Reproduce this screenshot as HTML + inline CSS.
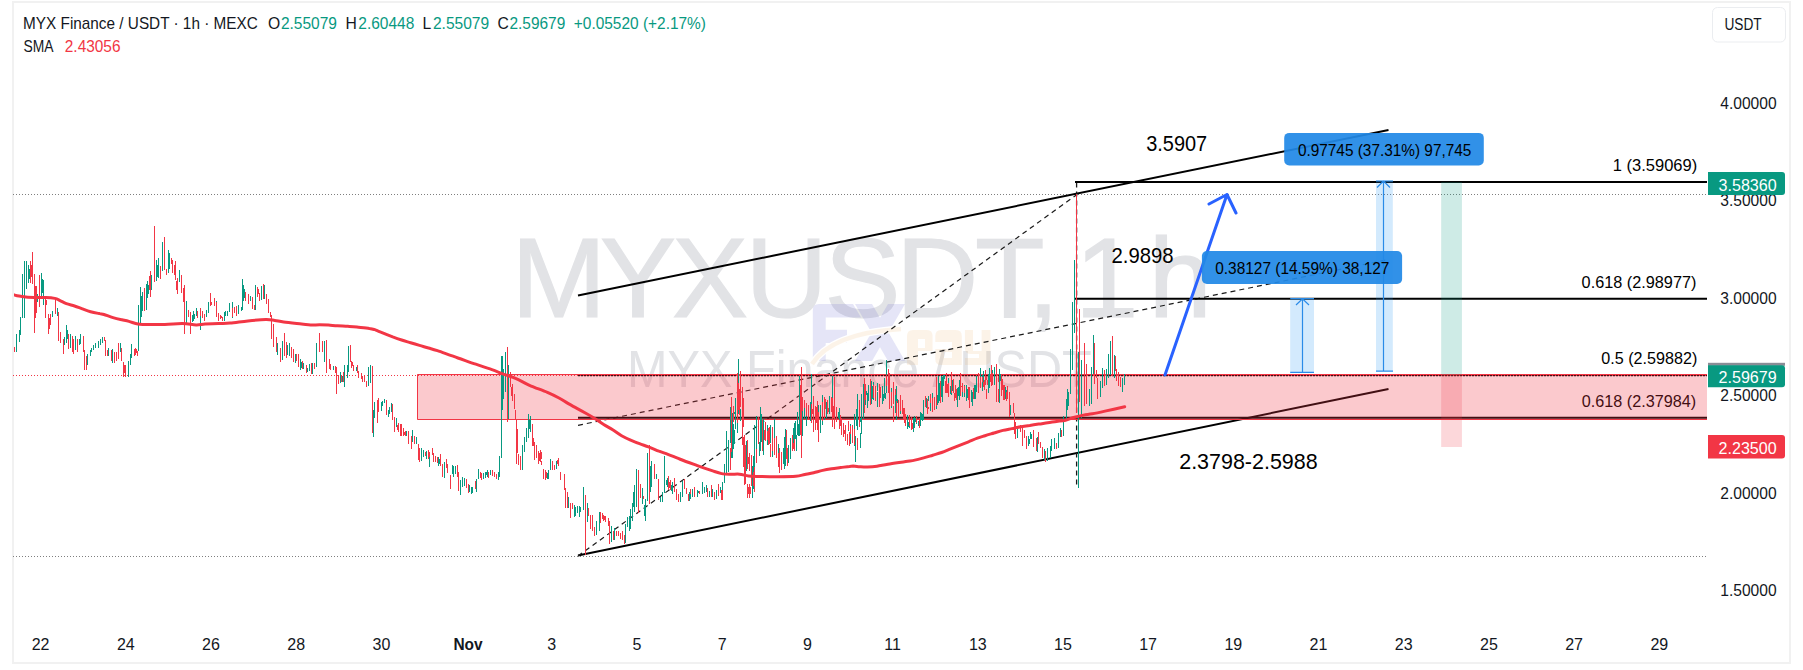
<!DOCTYPE html>
<html><head><meta charset="utf-8"><title>MYXUSDT 1h chart</title>
<style>html,body{margin:0;padding:0;background:#fff;width:1803px;height:670px;overflow:hidden}svg{display:block}</style>
</head><body><svg width="1803" height="670" viewBox="0 0 1803 670" font-family="'Liberation Sans', Arial, sans-serif"><defs><clipPath id="pane"><rect x="14" y="3" width="1693" height="659"/></clipPath></defs><rect x="12" y="1" width="1779" height="2" fill="#f1f1f1"/><rect x="12" y="662" width="1779" height="2" fill="#f1f1f1"/><rect x="12" y="1" width="2" height="663" fill="#f1f1f1"/><rect x="1789" y="1" width="2" height="663" fill="#f1f1f1"/><text x="511.3 600.1 672.1 745.2 824.6 895.9 975.0 1027.6 1050.6 1074.9 1148.6" y="317.2" font-size="114" fill="#e2e3e6" stroke="#e2e3e6" stroke-width="1.2">MYXUSDT, 1h</text><text x="627.1" y="386.9" font-size="50.9" fill="#e2e3e6" font-weight="normal" textLength="464.7" lengthAdjust="spacingAndGlyphs">MYX Finance / USDT</text><path d="M812.8 310 Q812.8 304 819 304 H853 L861 317.4 H825.7 V329.7 H847 V343 H825.7 V361 H812.8 Z" fill="rgba(100,100,205,0.17)"/><path d="M855 304 H872 L905 361 H888 Z M888 304 H905 L872 361 H855 Z" fill="rgba(100,100,205,0.17)" fill-rule="nonzero"/><path d="M812 364 Q832 333 901 329" stroke="#fff" stroke-width="7" fill="none"/><path d="M812 364 Q832 333 901 329" stroke="rgba(230,165,80,0.13)" stroke-width="4.5" fill="none"/><path fill-rule="evenodd" fill="rgba(230,165,80,0.13)" d="M913 330 H927 Q932.6 330 932.6 336 V351 H918 V365 H907 V336 Q907 330 913 330 Z M918 339 V348 H925 V339 Z M941 330 H956 Q961.8 330 961.8 336 V365 H941 Q935.3 365 935.3 359 V349 H952 V342 H935.3 V336 Q935.3 330 941 330 Z M944 352 V358 H952 V352 Z M964.9 330 H973 V351 H981.6 V330 H990.4 V359 Q990.4 365 984 365 H964.9 V358 H979 V354 H971 Q964.9 354 964.9 348 Z"/><path d="M13 194.5 H1707 M13 556.5 H1707" stroke="#7f7f7f" stroke-width="1" stroke-dasharray="1 2" fill="none"/><path d="M13 375.5 H1707" stroke="#f23645" stroke-width="1" stroke-dasharray="1 2" fill="none"/><path d="M578 295.5 L1388.5 130" stroke="#000" stroke-width="2" fill="none"/><path d="M578 555.5 L1388.5 389" stroke="#000" stroke-width="2" fill="none"/><path d="M578 425.3 L1388.5 259.5" stroke="#1a1a1a" stroke-width="1.2" stroke-dasharray="5 4" fill="none"/><path d="M578 556 L1077 194.4" stroke="#1a1a1a" stroke-width="1.2" stroke-dasharray="5 4" fill="none"/><path d="M578 375.6 H1707" stroke="#000" stroke-width="1.3" stroke-dasharray="2 1" fill="none"/><path d="M578 417.8 H1707" stroke="#000" stroke-width="2" fill="none"/><text x="1601.3" y="363.9" font-size="15.7" fill="#000" font-weight="normal" textLength="96.0" lengthAdjust="spacingAndGlyphs">0.5 (2.59882)</text><text x="1581.8" y="406.8" font-size="15.7" fill="#000" font-weight="normal" textLength="114.3" lengthAdjust="spacingAndGlyphs">0.618 (2.37984)</text><path d="M1076.6 182.5 V488" stroke="#1a1a1a" stroke-width="1.3" stroke-dasharray="5 4" fill="none"/><path d="M1075 181.9 H1707 M1075 298.8 H1707" stroke="#000" stroke-width="2" fill="none"/><text x="1612.8" y="171.0" font-size="15.7" fill="#000" font-weight="normal" textLength="84.4" lengthAdjust="spacingAndGlyphs">1 (3.59069)</text><text x="1581.6" y="288.2" font-size="15.7" fill="#000" font-weight="normal" textLength="114.8" lengthAdjust="spacingAndGlyphs">0.618 (2.98977)</text><rect x="417" y="374" width="1290" height="46" fill="rgba(242,54,69,0.27)"/><path d="M1707 374.5 H417.5 V419.5 H1707" stroke="#f23645" stroke-width="1" fill="none"/><rect x="1441.2" y="182" width="20.7" height="192.8" fill="rgba(8,153,129,0.2)"/><rect x="1441.2" y="374.8" width="20.7" height="72.2" fill="rgba(242,54,69,0.2)"/><rect x="1290.2" y="298.4" width="23.8" height="74" fill="rgba(33,150,243,0.2)"/><path d="M1302.5 299 V372.4 M1290.2 372.4 H1314 M1296 305 L1302.5 298.8 L1309 305" stroke="#2a8be8" stroke-width="1.2" fill="none"/><path d="M1290.2 298.6 H1314" stroke="#2a8be8" stroke-width="1.2" fill="none"/><rect x="1376" y="180.6" width="16.8" height="190.5" fill="rgba(33,150,243,0.2)"/><path d="M1383.5 181.5 V371.1 M1376 371.1 H1393 M1377 187.5 L1383.5 181 L1390 187.5 M1376 181 H1393" stroke="#2a8be8" stroke-width="1.2" fill="none"/><g clip-path="url(#pane)"><path d="M501.5 356.0V458.0M650.5 465.6V491.6M724.5 472.4V478.9M726.5 459.9V473.1M728.5 441.2V472.1M731.5 402.4V458.1M735.5 397.9V424.8M737.5 387.5V432.8M740.5 409.1V421.1M746.5 440.9V471.3M753.5 456.3V489.3M754.5 425.3V475.1M756.5 415.5V450.7M760.5 426.2V447.2M763.5 419.2V455.0M767.5 425.4V445.2M770.5 424.5V443.3M783.5 447.8V463.9M785.5 428.8V466.1M788.5 444.8V461.0M790.5 440.7V451.9M794.5 422.6V444.7M795.5 420.6V439.3M797.5 412.2V435.3M799.5 411.1V434.5M801.5 392.7V431.3M810.5 404.3V418.5M815.5 407.6V422.7M818.5 405.1V429.0M820.5 404.5V422.5M824.5 398.6V419.5M829.5 396.2V413.6M838.5 411.6V418.3M850.5 424.0V443.9M854.5 414.3V446.1M856.5 409.3V425.5M857.5 394.2V429.9M861.5 411.5V423.4M863.5 384.2V419.0M865.5 389.0V404.9M866.5 390.5V395.4M868.5 384.6V395.9M872.5 390.0V397.4M873.5 382.2V399.7M877.5 382.7V391.0M882.5 385.7V402.9M884.5 378.3V397.8M891.5 388.1V407.5M900.5 403.4V413.5M907.5 414.8V423.3M914.5 422.6V427.6M916.5 418.4V423.5M918.5 420.5V425.5M920.5 411.8V422.7M921.5 413.1V420.0M923.5 399.7V417.5M930.5 400.4V410.8M932.5 393.0V403.9M936.5 404.9V408.6M937.5 395.0V404.6M939.5 382.9V400.8M941.5 375.6V387.4M943.5 374.7V386.3M944.5 374.6V379.2M950.5 386.0V393.7M951.5 374.8V394.8M957.5 388.3V398.8M959.5 380.1V399.5M966.5 386.1V390.4M971.5 389.5V401.6M975.5 384.8V398.8M976.5 377.5V391.7M978.5 375.5V386.0M982.5 375.1V390.5M983.5 371.4V381.7M989.5 367.7V388.1M994.5 366.8V385.3M999.5 369.4V390.6M1005.5 386.7V398.9M16.5 334.0V352.0M19.5 329.5V342.0M20.5 317.0V335.0M22.5 273.6V318.0M24.5 261.0V318.0M26.5 261.0V289.0M28.5 264.6V282.5M37.5 293.7V301.6M41.5 272.5V298.0M43.5 280.3V305.0M52.5 310.5V317.2M57.5 308.3V316.1M64.5 337.4V345.2M66.5 325.0V343.0M70.5 334.0V347.5M75.5 336.3V349.7M79.5 338.5V345.2M80.5 334.0V344.1M87.5 354.2V365.4M90.5 349.7V356.4M91.5 347.5V352.0M93.5 345.2V349.7M95.5 343.0V347.5M98.5 340.7V347.5M100.5 338.5V345.2M102.5 337.4V343.0M108.5 347.5V356.4M112.5 348.6V363.1M120.5 343.0V352.0M128.5 361.0V376.6M130.5 354.2V363.1M130.5 354.8V364.9M131.5 343.6V358.1M138.5 304.5V351.4M140.5 286.6V324.6M142.5 292.2V311.2M146.5 284.3V310.1M147.5 281.0V297.8M151.5 275.4V289.9M154.5 259.7V279.9M156.5 259.7V281.0M158.5 257.5V277.6M162.5 241.8V270.9M168.5 249.7V273.2M169.5 253.0V268.7M179.5 269.8V282.1M186.5 301.3V324.5M192.5 314.7V321.9M193.5 311.1V321.4M196.5 308.0V315.6M200.5 309.3V329.5M206.5 310.2V317.0M208.5 302.2V312.9M216.5 301.3V303.5M224.5 312.0V321.0M225.5 311.1V315.6M227.5 311.1V316.0M229.5 303.1V311.6M232.5 302.2V317.8M238.5 304.8V313.8M241.5 307.0V310.6M242.5 279.0V309.7M243.5 285.0V300.7M250.5 296.3V300.7M255.5 285.0V309.7M261.5 286.0V299.8M264.5 285.0V298.5M277.5 342.8V355.0M282.5 341.0V360.0M287.5 345.0V355.0M289.5 342.8V356.0M295.5 354.1V362.5M300.5 359.2V369.8M303.5 363.1V368.7M307.5 368.1V372.0M309.5 364.2V370.9M312.5 363.1V373.7M316.5 342.9V367.0M319.5 341.2V351.9M324.5 341.2V362.0M333.5 365.9V369.8M340.5 372.0V383.2M342.5 376.0V381.6M344.5 365.3V386.6M347.5 365.3V377.6M348.5 346.3V371.5M356.5 367.0V370.9M368.5 367.0V385.5M370.5 365.3V382.7M373.5 410.4V437.3M374.5 402.4V417.6M381.5 401.5V411.3M382.5 400.6V406.0M384.5 398.8V403.3M388.5 409.5V416.7M389.5 406.9V414.0M391.5 403.3V412.2M396.5 417.6V427.4M406.5 431.0V435.5M412.5 430.1V441.8M416.5 437.3V443.6M421.5 448.0V460.6M423.5 449.8V457.0M426.5 450.7V458.8M429.5 451.6V466.8M438.5 457.0V465.9M444.5 462.3V477.6M452.5 465.0V474.0M453.5 465.9V476.7M455.5 465.9V474.0M460.5 480.3V494.6M462.5 476.7V487.4M464.5 477.6V485.6M469.5 484.7V491.9M471.5 487.4V493.7M472.5 487.4V492.8M476.5 479.4V491.9M478.5 468.6V478.5M483.5 473.1V479.4M485.5 472.2V477.6M487.5 470.4V476.7M490.5 469.5V474.9M498.5 472.2V480.3M499.5 456.1V476.7M502.5 356.0V409.6M505.5 352.0V391.5M508.5 365.0V419.4M522.5 444.9V470.3M524.5 436.7V451.5M526.5 427.6V442.4M528.5 413.7V438.3M530.5 416.1V431.7M547.5 472.8V479.4M548.5 470.3V478.6M550.5 458.9V470.3M556.5 460.5V468.7M568.5 496.8V508.3M574.5 505.0V517.3M575.5 506.7V515.7M577.5 505.8V513.2M579.5 505.8V516.5M580.5 506.7V512.4M583.5 487.0V509.9M587.5 502.6V522.3M596.5 520.6V535.4M596.5 521.4V530.5M599.5 511.6V531.3M611.5 526.4V542.0M614.5 528.0V539.5M625.5 523.9V542.8M627.5 517.3V527.2M629.5 515.7V530.5M630.5 509.1V528.8M632.5 502.6V520.6M634.5 484.5V512.4M636.5 468.9V506.7M642.5 487.8V504.2M645.5 499.3V520.6M647.5 452.5V500.9M651.5 461.0V486.6M656.5 474.0V479.4M660.5 497.3V502.0M662.5 491.9V502.0M664.5 456.1V492.8M667.5 478.0V486.6M672.5 482.1V493.7M680.5 491.9V502.0M682.5 481.2V497.3M689.5 491.9V501.0M692.5 488.8V497.3M697.5 490.1V497.3M697.5 490.1V493.7M702.5 482.1V493.7M704.5 487.0V492.8M706.5 485.2V491.9M709.5 491.0V497.3M712.5 488.8V497.3M716.5 490.1V499.1M720.5 487.0V492.8M722.5 482.1V492.8M722.5 482.0V492.7M724.5 464.0V482.6M726.5 431.0V475.3M728.5 439.5V464.7M730.5 407.0V443.0M733.5 423.8V449.0M735.5 406.0V428.8M738.5 359.0V413.7M752.5 465.8V497.7M754.5 450.0V476.5M759.5 441.8V455.8M760.5 407.0V450.7M761.5 413.7V441.8M765.5 422.0V439.0M772.5 441.0V456.9M774.5 418.8V446.3M778.5 444.0V456.3M784.5 437.3V468.6M784.5 445.7V461.4M788.5 456.3V462.5M790.5 437.9V458.6M796.5 435.0V450.7M798.5 423.8V435.6M799.5 375.7V435.6M802.5 408.0V435.7M804.5 407.0V419.0M806.5 410.0V425.7M810.5 402.0V420.6M811.5 374.0V420.0M820.5 416.0V433.0M822.5 394.7V424.5M826.5 402.0V417.7M829.5 397.0V413.7M832.5 375.7V416.0M839.5 408.0V425.7M848.5 421.0V430.7M855.5 436.3V461.5M860.5 433.0V448.0M861.5 393.6V433.5M867.5 393.0V407.6M868.5 393.0V401.4M871.5 380.7V403.7M877.5 392.0V406.5M882.5 390.2V404.0M885.5 393.2V398.6M886.5 359.8V393.2M896.5 386.1V419.5M896.5 396.8V404.6M907.5 419.5V428.5M909.5 417.1V427.9M913.5 418.3V431.5M914.5 415.9V423.1M920.5 418.3V425.5M922.5 414.1V421.3M923.5 405.2V420.1M926.5 399.2V407.6M926.5 398.0V408.2M928.5 396.2V401.0M934.5 399.8V408.8M938.5 375.9V402.8M942.5 377.7V401.6M942.5 377.1V392.6M948.5 377.7V393.2M957.5 396.2V407.0M959.5 383.7V398.6M962.5 383.7V396.8M964.5 384.9V396.8M966.5 384.9V401.0M972.5 392.0V405.8M974.5 384.9V398.6M976.5 375.9V390.8M980.5 368.1V383.7M988.5 378.9V392.6M989.5 369.9V386.7M992.5 369.9V382.5M994.5 366.9V377.7M999.5 372.3V402.8M1006.5 390.2V401.0M1010.5 405.3V414.7M1017.5 429.0V438.0M1022.5 431.7V442.4M1028.5 436.2V446.0M1030.5 431.7V438.9M1031.5 434.0V438.9M1037.5 437.1V452.3M1044.5 448.7V460.0M1047.5 447.8V461.0M1050.5 446.0V458.0M1051.5 438.9V451.4M1054.5 438.0V448.7M1054.5 440.7V446.0M1058.5 433.0V447.8M1060.5 428.1V436.6M1063.5 416.0V436.0M1066.5 399.0V421.0M1067.5 389.0V410.0M1068.5 392.0V405.0M1070.5 349.0V394.0M1072.5 302.0V370.0M1074.5 260.0V333.0M1078.5 352.0V488.0M1081.5 360.0V418.0M1084.5 371.0V397.0M1089.5 389.0V406.0M1091.5 367.0V404.0M1093.5 335.0V374.0M1100.5 388.0V397.0M1100.5 381.0V396.0M1102.5 368.0V388.0M1106.5 369.0V385.0M1108.5 354.0V378.0M1110.5 341.0V375.0M1114.5 355.0V378.0M1122.5 378.0V392.0M1124.5 374.3V385.0" stroke="#089981" stroke-width="1" fill="none" shape-rendering="crispEdges"/><path d="M183.5 288.0V301.6M730.5 448.3V470.4M733.5 405.6V422.3M739.5 388.7V414.7M742.5 403.8V444.9M744.5 435.8V469.7M747.5 439.8V468.9M749.5 453.1V471.3M751.5 454.9V486.2M758.5 416.5V444.4M762.5 420.2V450.6M765.5 421.8V441.4M769.5 427.1V443.9M772.5 426.5V450.9M774.5 437.8V454.6M776.5 435.9V458.2M778.5 452.7V467.2M779.5 458.9V465.6M781.5 451.8V463.9M786.5 429.9V458.6M792.5 435.0V451.0M802.5 397.4V410.9M804.5 400.4V407.6M806.5 402.5V416.0M808.5 404.7V417.3M811.5 403.9V423.4M813.5 405.1V426.3M817.5 405.6V418.1M822.5 402.3V420.8M825.5 399.2V408.5M827.5 399.8V410.1M831.5 397.4V411.6M833.5 405.5V418.2M834.5 409.6V416.0M836.5 410.1V422.4M840.5 414.6V426.1M841.5 418.0V434.5M843.5 424.8V437.4M845.5 426.7V441.0M847.5 433.5V444.5M849.5 432.2V446.1M852.5 425.4V443.2M859.5 399.7V427.3M870.5 386.6V400.3M875.5 385.5V394.9M879.5 383.5V387.9M880.5 386.6V396.8M886.5 375.1V386.1M888.5 374.9V393.0M889.5 387.8V408.6M893.5 381.5V403.9M895.5 388.9V401.5M896.5 400.9V415.5M898.5 407.6V417.1M902.5 409.7V413.7M904.5 407.9V422.8M905.5 413.9V423.7M909.5 414.8V425.6M911.5 421.0V430.1M912.5 423.4V429.3M925.5 396.0V406.6M927.5 398.9V414.2M928.5 407.3V409.3M934.5 396.8V410.2M946.5 373.1V388.8M948.5 383.0V397.3M953.5 379.4V392.6M955.5 384.6V397.6M960.5 383.4V392.5M962.5 383.0V391.5M964.5 385.9V393.4M967.5 389.3V391.3M969.5 387.3V400.4M973.5 388.0V399.2M980.5 377.4V388.1M985.5 369.9V384.6M987.5 380.2V385.4M991.5 370.8V385.5M992.5 372.5V384.9M996.5 368.9V390.0M998.5 376.2V381.9M1001.5 373.6V396.1M1003.5 385.1V400.0M1007.5 386.4V399.4M14.5 346.6V352.0M30.5 261.0V282.5M32.5 252.0V283.7M34.5 273.6V333.0M36.5 286.0V313.0M39.5 274.7V307.0M45.5 298.0V318.0M46.5 300.4V305.0M48.5 314.0V334.0M50.5 314.0V325.0M55.5 299.3V314.0M58.5 311.6V340.7M60.5 331.8V343.0M63.5 338.5V354.2M68.5 334.0V348.6M72.5 336.3V352.0M73.5 338.5V354.2M77.5 338.5V352.0M83.5 336.3V352.0M84.5 349.7V369.8M86.5 356.4V369.8M104.5 337.4V340.7M105.5 339.6V356.4M107.5 349.7V356.4M111.5 349.7V360.9M114.5 352.0V363.1M116.5 352.0V360.9M118.5 343.0V358.6M121.5 347.5V360.9M123.5 362.0V376.6M125.5 365.4V376.6M134.5 349.2V355.9M135.5 348.1V354.8M137.5 351.4V355.9M144.5 287.7V311.2M150.5 270.9V296.6M154.5 226.2V282.1M160.5 266.4V278.7M164.5 237.4V269.8M166.5 268.7V275.4M171.5 257.5V264.2M172.5 259.7V273.2M175.5 260.9V279.9M177.5 277.6V294.4M181.5 275.4V293.3M184.5 285.0V333.5M188.5 310.2V316.5M190.5 312.0V333.5M197.5 311.1V317.8M200.5 308.0V316.0M202.5 311.1V317.8M204.5 313.8V321.0M210.5 293.0V305.7M211.5 302.2V304.8M214.5 298.1V305.7M216.5 302.2V317.4M218.5 312.9V321.0M220.5 315.1V318.7M222.5 317.0V321.0M232.5 308.0V317.0M234.5 307.1V312.9M236.5 306.2V316.0M245.5 292.2V300.7M248.5 299.0V303.9M248.5 294.0V301.6M252.5 297.2V308.8M254.5 305.2V309.7M257.5 287.0V296.7M259.5 293.1V300.7M263.5 284.0V298.5M266.5 294.0V303.9M268.5 299.0V312.8M270.5 312.0V316.9M271.5 315.0V338.8M273.5 324.0V346.8M276.5 337.0V352.0M280.5 347.7V362.0M284.5 333.0V356.0M286.5 342.0V358.0M291.5 346.8V358.0M291.5 347.4V355.2M293.5 349.1V362.0M296.5 354.1V360.8M298.5 354.1V367.0M302.5 360.8V368.7M306.5 364.8V372.6M311.5 363.1V374.3M314.5 363.1V368.7M319.5 333.4V352.4M322.5 341.2V352.4M326.5 340.1V372.6M326.5 354.1V356.9M329.5 359.2V369.2M330.5 364.2V369.8M335.5 366.4V372.6M336.5 367.0V393.9M338.5 375.4V383.8M341.5 375.4V382.1M343.5 372.0V381.6M350.5 345.2V362.0M351.5 360.8V367.6M353.5 365.3V370.9M357.5 365.3V373.2M358.5 370.9V377.6M361.5 373.2V378.8M362.5 376.0V381.6M364.5 376.0V382.1M366.5 381.0V386.6M372.5 370.9V400.0M372.5 366.0V432.8M377.5 399.7V423.0M378.5 397.9V412.2M386.5 399.7V414.9M392.5 404.2V420.3M394.5 416.7V431.9M398.5 423.0V431.9M400.5 423.9V435.5M401.5 423.9V436.4M403.5 428.3V435.5M405.5 431.0V436.4M408.5 431.0V444.4M411.5 435.5V448.9M414.5 436.4V444.4M418.5 443.6V459.7M419.5 448.0V461.5M425.5 451.6V456.1M428.5 449.8V458.8M432.5 448.0V455.2M433.5 452.5V461.5M435.5 456.1V462.3M437.5 457.0V463.2M440.5 454.3V465.9M442.5 464.1V476.7M446.5 458.8V467.7M447.5 464.1V473.1M450.5 474.9V489.2M457.5 465.0V476.7M458.5 472.2V491.0M466.5 478.5V488.3M468.5 483.8V492.8M475.5 481.1V489.2M480.5 472.2V477.6M481.5 473.1V480.3M488.5 472.2V477.6M492.5 470.4V475.8M494.5 472.2V476.7M496.5 474.0V478.5M507.5 347.0V421.9M510.5 372.0V386.6M512.5 384.1V400.5M514.5 394.0V408.7M515.5 409.6V420.2M516.5 420.2V463.8M518.5 453.9V464.6M520.5 455.6V469.5M532.5 423.5V445.7M533.5 437.5V445.7M534.5 442.4V459.7M536.5 444.9V458.0M538.5 450.6V463.8M540.5 449.8V462.1M541.5 461.3V465.4M543.5 468.7V478.6M545.5 469.5V480.2M552.5 460.5V469.5M554.5 465.4V470.3M558.5 458.0V466.2M560.5 472.2V480.4M564.5 473.8V490.2M565.5 487.8V508.3M567.5 491.9V508.3M570.5 502.6V518.2M572.5 503.4V509.1M585.5 495.2V555.1M588.5 507.5V515.7M590.5 514.9V528.8M592.5 514.9V530.5M594.5 527.2V536.2M600.5 511.6V523.1M602.5 513.2V519.0M603.5 514.9V521.4M605.5 515.7V522.3M608.5 518.2V525.5M609.5 521.4V543.6M613.5 530.5V540.3M616.5 531.3V536.2M618.5 530.5V536.2M620.5 532.9V538.7M622.5 531.3V539.5M624.5 535.4V543.6M638.5 469.7V513.2M640.5 483.7V498.4M643.5 496.0V499.3M649.5 445.0V504.2M654.5 464.2V479.4M658.5 478.9V492.8M658.5 490.1V500.0M668.5 476.3V490.1M670.5 480.3V490.1M674.5 478.0V485.7M674.5 483.9V491.9M676.5 488.8V500.0M678.5 493.7V502.0M684.5 478.9V488.8M686.5 487.9V493.7M688.5 493.7V501.0M690.5 488.8V497.3M694.5 487.0V497.3M699.5 491.0V493.7M707.5 488.3V497.3M711.5 485.2V497.3M714.5 491.9V500.0M718.5 483.9V496.4M722.5 490.1V500.0M721.5 490.0V500.0M731.5 397.0V452.4M737.5 373.0V422.7M740.5 371.0V407.0M742.5 387.0V440.7M744.5 435.0V485.4M745.5 444.7V484.3M747.5 483.7V497.7M749.5 483.7V497.7M754.5 467.0V492.0M756.5 449.0V462.5M764.5 430.0V439.5M768.5 427.7V444.6M768.5 434.5V444.6M770.5 444.0V456.9M776.5 441.0V457.4M779.5 448.0V472.6M781.5 461.4V469.8M787.5 448.0V466.4M793.5 438.4V448.5M794.5 439.0V450.7M801.5 367.0V458.0M808.5 407.0V420.0M813.5 396.0V432.4M815.5 406.0V429.6M817.5 401.0V429.6M818.5 412.0V442.4M824.5 397.0V417.7M827.5 407.0V413.7M832.5 398.0V426.8M834.5 376.8V428.5M836.5 407.0V420.6M839.5 420.0V428.5M841.5 420.0V428.0M843.5 422.7V433.0M845.5 425.0V434.6M848.5 421.0V430.0M850.5 426.2V433.5M852.5 433.0V439.7M854.5 429.0V444.7M857.5 438.0V449.7M864.5 388.6V412.6M864.5 378.0V407.6M870.5 379.0V405.4M873.5 385.0V397.5M875.5 391.4V401.4M879.5 388.0V397.5M879.5 387.8V407.0M880.5 395.0V398.0M888.5 369.3V386.1M889.5 372.9V390.8M891.5 392.0V405.8M893.5 405.8V421.9M898.5 400.4V411.7M900.5 395.0V411.1M902.5 399.8V412.3M903.5 408.2V418.9M905.5 419.5V426.1M911.5 416.5V425.5M916.5 415.9V422.5M919.5 418.3V427.9M930.5 393.8V402.8M932.5 398.0V411.7M936.5 377.1V406.4M940.5 381.3V402.8M945.5 380.7V392.6M946.5 384.9V393.2M951.5 371.7V382.5M951.5 381.3V393.2M954.5 392.6V401.0M956.5 389.0V399.8M960.5 372.9V395.6M968.5 387.3V400.4M969.5 393.8V407.6M973.5 390.8V396.2M978.5 372.9V392.6M982.5 376.5V381.9M984.5 379.5V389.6M986.5 389.0V398.6M991.5 365.2V382.5M996.5 364.0V401.6M998.5 389.0V401.6M1002.5 378.9V389.6M1004.5 384.9V399.8M1006.5 392.0V401.0M1009.5 392.0V417.4M1013.5 403.1V412.9M1014.5 412.9V433.5M1015.5 421.9V438.9M1020.5 425.4V431.7M1022.5 428.1V445.6M1024.5 429.9V438.0M1026.5 436.2V448.7M1033.5 429.9V446.9M1036.5 438.0V450.5M1038.5 431.7V444.2M1040.5 442.0V447.8M1042.5 447.0V458.0M1045.5 450.5V462.0M1056.5 442.9V448.7M1061.5 429.9V436.6M1076.5 194.0V413.0M1079.5 309.0V402.0M1084.5 343.0V406.0M1086.5 364.0V404.0M1094.5 343.0V384.0M1096.5 370.0V378.0M1097.5 378.0V399.0M1104.5 370.0V386.0M1112.5 336.0V376.0M1115.5 356.0V371.0M1116.5 369.0V381.0M1118.5 372.0V386.0M1120.5 377.0V387.0" stroke="#f23645" stroke-width="1" fill="none" shape-rendering="crispEdges"/><path d="M732.5 413.4V457.6M734.5 412.4V414.0M793.5 428.0V443.2M800.5 402.4V415.6M860.5 417.8V422.3M952.5 379.5V390.9M988.5 374.4V384.4M1000.5 374.1V380.6M29.5 269.1V278.9M42.5 278.9V292.9M67.5 329.5V339.4M141.5 296.1V317.0M148.5 285.2V294.4M157.5 265.0V276.7M193.5 316.5V320.5M194.5 313.7V319.3M244.5 288.9V297.6M301.5 361.9V367.7M439.5 459.2V464.1M486.5 472.0V475.4M503.5 369.4V398.9M529.5 420.0V428.6M633.5 491.5V506.8M644.5 504.6V516.3M666.5 480.1V484.9M671.5 485.0V491.4M690.5 494.2V499.2M698.5 491.0V493.0M734.5 430.1V444.0M800.5 390.7V423.6M872.5 386.4V399.1M883.5 393.6V401.2M895.5 394.5V412.8M897.5 398.8V403.0M908.5 421.8V426.7M915.5 417.7V421.7M941.5 383.7V396.8M958.5 387.4V395.6M967.5 388.9V397.8M1029.5 438.6V444.0M1068.5 394.2V405.8" stroke="#089981" stroke-width="1" fill="none" shape-rendering="crispEdges"/><path d="M743.5 436.8V466.7M748.5 457.4V463.6M812.5 409.1V414.3M844.5 430.3V433.7M947.5 384.1V393.1M961.5 385.9V386.9M986.5 375.9V380.3M990.5 374.4V382.0M31.5 265.3V277.1M35.5 285.5V318.1M49.5 318.0V329.0M124.5 364.9V373.0M136.5 349.4V353.1M149.5 276.0V290.2M174.5 264.7V275.1M176.5 281.0V290.2M221.5 315.8V317.8M258.5 288.9V294.3M352.5 362.2V365.9M397.5 424.8V429.7M404.5 432.1V435.0M429.5 451.6V456.6M511.5 387.4V396.4M517.5 428.9V452.9M539.5 453.2V460.5M541.5 452.3V459.0M546.5 471.6V477.5M557.5 459.6V464.1M604.5 516.2V519.8M669.5 482.3V487.7M738.5 382.9V410.3M743.5 397.7V427.3M748.5 486.5V494.2M750.5 486.5V494.2M753.5 472.0V485.8M767.5 431.1V440.4M800.5 385.2V435.2M816.5 406.7V422.5M828.5 408.3V412.0M865.5 383.9V400.2M904.5 410.3V416.2M983.5 381.5V387.1" stroke="#f23645" stroke-width="1" fill="none" shape-rendering="crispEdges"/><path d="M13.6 294.8 C14.5 295.0 16.6 295.7 19.0 296.1 C21.4 296.5 24.9 297.0 27.9 297.2 C30.9 297.4 33.9 297.4 36.9 297.5 C39.9 297.6 42.8 297.4 45.8 297.5 C48.8 297.6 52.4 297.9 54.8 298.4 C57.2 298.9 58.2 299.7 60.1 300.6 C62.0 301.5 64.0 302.8 66.4 303.7 C68.8 304.6 72.0 305.2 74.5 306.0 C77.0 306.8 78.9 307.6 81.6 308.6 C84.3 309.6 87.6 311.0 90.6 311.8 C93.6 312.6 97.3 313.2 99.5 313.6 C101.7 314.1 101.8 313.8 104.0 314.5 C106.2 315.2 110.0 316.7 113.0 317.6 C116.0 318.5 119.2 319.2 121.9 319.8 C124.6 320.4 126.3 320.7 129.0 321.4 C131.7 322.1 134.9 323.6 137.9 324.1 C140.9 324.6 142.4 324.3 146.9 324.4 C151.4 324.4 158.8 324.5 164.8 324.4 C170.8 324.3 177.5 323.5 182.7 323.6 C187.9 323.7 192.4 324.8 196.1 324.9 C199.8 325.0 201.3 324.3 205.0 324.1 C208.7 323.9 214.3 323.7 218.5 323.5 C222.7 323.3 225.1 323.5 230.0 323.1 C234.9 322.7 241.9 321.5 247.9 320.9 C253.9 320.3 261.3 319.6 265.8 319.5 C270.3 319.4 271.8 320.0 274.8 320.4 C277.8 320.8 279.2 321.4 283.7 322.0 C288.2 322.6 297.1 323.5 301.6 324.0 C306.1 324.5 307.6 324.9 310.6 325.0 C313.6 325.1 316.5 324.8 319.5 324.8 C322.5 324.8 325.5 324.9 328.5 325.1 C331.5 325.3 334.2 325.6 337.4 325.8 C340.6 326.0 344.6 326.1 347.9 326.3 C351.1 326.5 353.3 326.6 356.9 327.0 C360.5 327.4 366.4 327.9 369.4 328.4 C372.4 328.8 373.0 329.1 374.8 329.7 C376.6 330.3 377.1 330.7 380.1 331.9 C383.1 333.1 389.1 335.5 392.7 336.9 C396.3 338.2 398.6 339.0 401.6 340.0 C404.6 341.0 407.6 341.8 410.6 342.7 C413.6 343.6 416.5 344.5 419.5 345.4 C422.5 346.3 425.5 347.1 428.5 348.0 C431.5 348.9 432.5 349.0 437.4 350.7 C442.3 352.4 451.5 355.8 457.9 358.0 C464.3 360.2 470.1 362.3 475.8 364.2 C481.5 366.1 487.4 368.0 491.9 369.6 C496.4 371.2 498.7 372.3 502.7 373.8 C506.7 375.3 511.6 376.7 516.1 378.6 C520.6 380.5 524.3 383.0 529.5 385.3 C534.7 387.6 542.5 390.3 547.4 392.4 C552.3 394.5 555.6 396.2 559.0 398.0 C562.4 399.8 564.9 401.7 567.9 403.4 C570.9 405.1 573.9 406.8 576.9 408.4 C579.9 410.0 582.8 411.6 585.8 413.3 C588.8 415.0 591.8 416.7 594.8 418.6 C597.8 420.5 600.7 422.6 603.7 424.5 C606.7 426.4 609.7 427.9 612.7 429.8 C615.7 431.7 618.6 434.0 621.6 435.7 C624.6 437.4 627.6 438.8 630.6 440.1 C633.6 441.4 636.5 442.6 639.5 443.7 C642.5 444.8 645.2 445.6 648.5 446.8 C651.8 448.1 655.8 449.9 659.0 451.2 C662.2 452.4 664.9 453.2 667.9 454.3 C670.9 455.4 673.9 456.7 676.9 457.9 C679.9 459.1 682.8 460.4 685.8 461.5 C688.8 462.6 691.8 463.6 694.8 464.6 C697.8 465.7 700.7 466.8 703.7 467.8 C706.7 468.9 709.7 469.9 712.7 470.9 C715.7 471.9 718.6 473.0 721.6 473.6 C724.6 474.2 727.6 474.2 730.6 474.3 C733.6 474.4 736.5 473.9 739.5 474.2 C742.5 474.5 745.5 475.6 748.5 476.0 C751.5 476.4 752.5 476.4 757.4 476.5 C762.3 476.6 771.5 476.7 777.9 476.7 C784.3 476.7 791.3 476.7 795.8 476.3 C800.3 475.9 801.8 475.1 804.8 474.5 C807.8 473.9 810.7 473.4 813.7 472.7 C816.7 472.0 819.7 471.0 822.7 470.4 C825.7 469.8 828.6 469.3 831.6 468.8 C834.6 468.3 837.6 468.0 840.6 467.6 C843.6 467.2 847.4 466.6 849.5 466.4 C851.6 466.1 851.6 466.1 853.1 466.1 C854.6 466.2 856.1 466.6 858.5 466.7 C860.9 466.8 864.3 467.1 867.4 467.0 C870.5 466.9 873.6 466.7 877.0 466.2 C880.4 465.7 883.1 465.0 887.9 464.2 C892.7 463.4 901.3 462.2 905.8 461.5 C910.3 460.8 911.8 460.7 914.8 460.1 C917.8 459.5 920.7 458.7 923.7 457.9 C926.7 457.1 929.7 456.1 932.7 455.2 C935.7 454.3 938.6 453.6 941.6 452.5 C944.6 451.4 947.6 450.1 950.6 448.9 C953.6 447.7 956.5 446.6 959.5 445.4 C962.5 444.2 965.5 443.0 968.5 441.8 C971.5 440.6 974.6 439.2 977.4 438.2 C980.1 437.2 982.2 436.6 985.0 435.7 C987.8 434.8 991.0 433.9 994.0 433.0 C997.0 432.1 999.9 431.1 1002.9 430.4 C1005.9 429.7 1008.9 429.2 1011.9 428.6 C1014.9 428.0 1017.8 427.3 1020.8 426.8 C1023.8 426.3 1026.8 425.8 1029.8 425.4 C1032.8 424.9 1035.7 424.5 1038.7 424.1 C1041.7 423.7 1044.7 423.2 1047.7 422.8 C1050.7 422.4 1053.6 421.8 1056.6 421.4 C1059.6 421.0 1062.6 420.9 1065.6 420.2 C1068.6 419.5 1071.5 418.0 1074.5 417.2 C1077.5 416.4 1080.5 415.7 1083.5 415.1 C1086.5 414.5 1088.8 414.5 1092.4 413.8 C1096.0 413.1 1099.6 412.3 1105.0 411.1 C1110.4 409.9 1121.4 407.5 1124.7 406.8" stroke="#f23645" stroke-width="3" fill="none" stroke-linejoin="round" stroke-linecap="round"/></g><path d="M1165 375 L1227 194.5 M1209 204 L1227 194.5 L1236 213" stroke="#2962ff" stroke-width="3" fill="none" stroke-linecap="round" stroke-linejoin="round"/><text x="1146.2" y="151.0" font-size="22.5" fill="#000" font-weight="normal" textLength="61.0" lengthAdjust="spacingAndGlyphs">3.5907</text><text x="1111.5" y="262.7" font-size="22.5" fill="#000" font-weight="normal" textLength="62.1" lengthAdjust="spacingAndGlyphs">2.9898</text><text x="1179.2" y="469.0" font-size="22.5" fill="#000" font-weight="normal" textLength="138.5" lengthAdjust="spacingAndGlyphs">2.3798-2.5988</text><rect x="1284.2" y="132.9" width="199.6" height="32.6" rx="5" fill="rgba(33,137,230,0.93)"/><text x="1297.9" y="156.0" font-size="16.5" fill="#000" font-weight="normal" textLength="173.5" lengthAdjust="spacingAndGlyphs">0.97745 (37.31%) 97,745</text><rect x="1201.9" y="251.1" width="200.2" height="32.8" rx="5" fill="rgba(33,137,230,0.93)"/><text x="1215.2" y="274.0" font-size="16.5" fill="#000" font-weight="normal" textLength="174.2" lengthAdjust="spacingAndGlyphs">0.38127 (14.59%) 38,127</text><text x="23.1" y="28.6" font-size="15.7" fill="#131722" font-weight="normal" textLength="234.7" lengthAdjust="spacingAndGlyphs">MYX Finance / USDT · 1h · MEXC</text><text x="268.1" y="28.6" font-size="15.7" fill="#131722" text-anchor="start" font-weight="normal">O</text><text x="280.9" y="28.6" font-size="15.7" fill="#089981" font-weight="normal" textLength="56.1" lengthAdjust="spacingAndGlyphs">2.55079</text><text x="345.6" y="28.6" font-size="15.7" fill="#131722" text-anchor="start" font-weight="normal">H</text><text x="358.3" y="28.6" font-size="15.7" fill="#089981" font-weight="normal" textLength="56.0" lengthAdjust="spacingAndGlyphs">2.60448</text><text x="422.4" y="28.6" font-size="15.7" fill="#131722" text-anchor="start" font-weight="normal">L</text><text x="432.9" y="28.6" font-size="15.7" fill="#089981" font-weight="normal" textLength="56.3" lengthAdjust="spacingAndGlyphs">2.55079</text><text x="497.6" y="28.6" font-size="15.7" fill="#131722" text-anchor="start" font-weight="normal">C</text><text x="509.5" y="28.6" font-size="15.7" fill="#089981" font-weight="normal" textLength="55.8" lengthAdjust="spacingAndGlyphs">2.59679</text><text x="573.8" y="28.6" font-size="15.7" fill="#089981" font-weight="normal" textLength="132.2" lengthAdjust="spacingAndGlyphs">+0.05520 (+2.17%)</text><text x="23.5" y="51.6" font-size="15.7" fill="#131722" font-weight="normal" textLength="30.0" lengthAdjust="spacingAndGlyphs">SMA</text><text x="64.8" y="51.6" font-size="15.7" fill="#f23645" font-weight="normal" textLength="55.7" lengthAdjust="spacingAndGlyphs">2.43056</text><text x="1720.3" y="108.8" font-size="16" fill="#131722" font-weight="normal" textLength="56.3" lengthAdjust="spacingAndGlyphs">4.00000</text><text x="1720.3" y="206.3" font-size="16" fill="#131722" font-weight="normal" textLength="56.3" lengthAdjust="spacingAndGlyphs">3.50000</text><text x="1720.3" y="303.8" font-size="16" fill="#131722" font-weight="normal" textLength="56.3" lengthAdjust="spacingAndGlyphs">3.00000</text><text x="1720.3" y="401.2" font-size="16" fill="#131722" font-weight="normal" textLength="56.3" lengthAdjust="spacingAndGlyphs">2.50000</text><text x="1720.3" y="498.7" font-size="16" fill="#131722" font-weight="normal" textLength="56.3" lengthAdjust="spacingAndGlyphs">2.00000</text><text x="1720.3" y="596.2" font-size="16" fill="#131722" font-weight="normal" textLength="56.3" lengthAdjust="spacingAndGlyphs">1.50000</text><rect x="1708" y="362.8" width="77" height="3" fill="#8a8d96"/><path d="M1708 172 H1782 Q1785 172 1785 175 V192 Q1785 195 1782 195 H1708 Z" fill="#089981"/><text x="1718.6" y="191.0" font-size="16" fill="#fff" font-weight="normal" textLength="58.1" lengthAdjust="spacingAndGlyphs">3.58360</text><path d="M1708 365.2 H1782 Q1785 365.2 1785 368.2 V384.2 Q1785 387.2 1782 387.2 H1708 Z" fill="#089981"/><text x="1718.6" y="382.9" font-size="16" fill="#fff" font-weight="normal" textLength="58.1" lengthAdjust="spacingAndGlyphs">2.59679</text><path d="M1708 435.1 H1782 Q1785 435.1 1785 438.1 V455.4 Q1785 458.4 1782 458.4 H1708 Z" fill="#f23645"/><text x="1718.6" y="453.5" font-size="16" fill="#fff" font-weight="normal" textLength="58.1" lengthAdjust="spacingAndGlyphs">2.23500</text><text x="40.6" y="650.4" font-size="16" fill="#131722" text-anchor="middle" font-weight="normal">22</text><text x="125.8" y="650.4" font-size="16" fill="#131722" text-anchor="middle" font-weight="normal">24</text><text x="211" y="650.4" font-size="16" fill="#131722" text-anchor="middle" font-weight="normal">26</text><text x="296.2" y="650.4" font-size="16" fill="#131722" text-anchor="middle" font-weight="normal">28</text><text x="381.4" y="650.4" font-size="16" fill="#131722" text-anchor="middle" font-weight="normal">30</text><text x="453.4" y="650.4" font-size="16" fill="#131722" font-weight="bold" textLength="29.2" lengthAdjust="spacingAndGlyphs">Nov</text><text x="551.8" y="650.4" font-size="16" fill="#131722" text-anchor="middle" font-weight="normal">3</text><text x="637" y="650.4" font-size="16" fill="#131722" text-anchor="middle" font-weight="normal">5</text><text x="722.2" y="650.4" font-size="16" fill="#131722" text-anchor="middle" font-weight="normal">7</text><text x="807.4" y="650.4" font-size="16" fill="#131722" text-anchor="middle" font-weight="normal">9</text><text x="892.6" y="650.4" font-size="16" fill="#131722" text-anchor="middle" font-weight="normal">11</text><text x="977.8" y="650.4" font-size="16" fill="#131722" text-anchor="middle" font-weight="normal">13</text><text x="1063" y="650.4" font-size="16" fill="#131722" text-anchor="middle" font-weight="normal">15</text><text x="1148.1" y="650.4" font-size="16" fill="#131722" text-anchor="middle" font-weight="normal">17</text><text x="1233.3" y="650.4" font-size="16" fill="#131722" text-anchor="middle" font-weight="normal">19</text><text x="1318.5" y="650.4" font-size="16" fill="#131722" text-anchor="middle" font-weight="normal">21</text><text x="1403.7" y="650.4" font-size="16" fill="#131722" text-anchor="middle" font-weight="normal">23</text><text x="1488.9" y="650.4" font-size="16" fill="#131722" text-anchor="middle" font-weight="normal">25</text><text x="1574.1" y="650.4" font-size="16" fill="#131722" text-anchor="middle" font-weight="normal">27</text><text x="1659.3" y="650.4" font-size="16" fill="#131722" text-anchor="middle" font-weight="normal">29</text><rect x="1712.5" y="7.5" width="73" height="34.5" rx="5" fill="#fff" stroke="#ebedf0" stroke-width="1"/><text x="1724.4" y="30.1" font-size="16" fill="#131722" font-weight="normal" textLength="37.3" lengthAdjust="spacingAndGlyphs">USDT</text></svg></body></html>
